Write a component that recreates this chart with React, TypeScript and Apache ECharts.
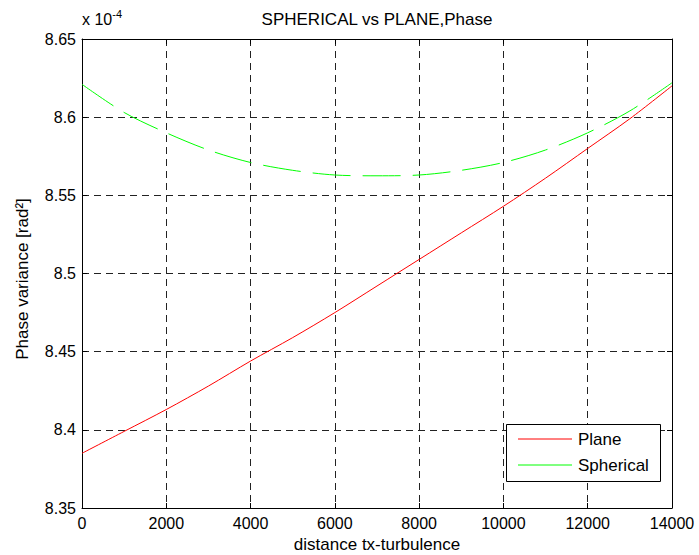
import React, { useEffect, useRef } from "react";
import * as echarts from "echarts";

const distance = [0, 1000, 2000, 3000, 4000, 5000, 6000, 7000, 8000, 9000, 10000, 11000, 12000, 13000, 14000];
const planeValues = [8.385, 8.399, 8.413, 8.428, 8.444, 8.459, 8.475, 8.492, 8.509, 8.526, 8.543, 8.561, 8.58, 8.599, 8.62];
const sphericalValues = [8.621, 8.603, 8.59, 8.579, 8.571, 8.566, 8.563, 8.5625, 8.563, 8.566, 8.571, 8.579, 8.59, 8.604, 8.622];
const seriesNames = ["Plane", "Spherical"];
const seriesColors = ["#ff0000", "#00ff00"];
const titleText = "SPHERICAL vs PLANE,Phase";
const xLabel = "distance tx-turbulence";
const yLabel = "Phase variance [rad²]";

const FONT = "'Liberation Sans', Arial, Helvetica, sans-serif";
const FS = 17;
const TFS = 16;

export default function App() {
  const ref = useRef<HTMLDivElement>(null);
  useEffect(() => {
    if (!ref.current) return;
    const chart = echarts.init(ref.current, undefined, { renderer: "svg" });
    const gridL = 82, gridT = 39, gridR = 27, gridB = 47;
    const W = 699;
    const plotCx = gridL + (W - gridL - gridR) / 2;
    const fmtY = (v: number) => String(+v.toFixed(2));
    const axisBase = {
      type: "value" as const,
      axisLine: { show: true, onZero: false, lineStyle: { color: "#000", width: 1 } },
      axisTick: { show: true, inside: true, length: 5, lineStyle: { color: "#000" } },
    };
    const legX = 506, legY = 424, legW = 154, legH = 57;
    const option: any = {
      animation: false,
      backgroundColor: "#fff",
      grid: { left: gridL, top: gridT, right: gridR, bottom: gridB, show: false },
      xAxis: [
        {
          ...axisBase,
          position: "bottom",
          min: 0,
          max: 14000,
          interval: 2000,
          axisLabel: { color: "#000", fontFamily: FONT, fontSize: TFS, margin: 7, formatter: (v: number) => String(v) },
          splitLine: { show: true, lineStyle: { color: "#222", type: [7, 5], width: 1 } },
        },
        {
          ...axisBase,
          position: "top",
          min: 0,
          max: 14000,
          interval: 2000,
          axisLabel: { show: false },
          splitLine: { show: false },
        },
      ],
      yAxis: [
        {
          ...axisBase,
          position: "left",
          min: 8.35,
          max: 8.65,
          interval: 0.05,
          axisLabel: { color: "#000", fontFamily: FONT, fontSize: TFS, margin: 6, formatter: fmtY },
          splitLine: { show: true, lineStyle: { color: "#222", type: [7, 5], width: 1 } },
        },
        {
          ...axisBase,
          position: "right",
          min: 8.35,
          max: 8.65,
          interval: 0.05,
          axisLabel: { show: false },
          splitLine: { show: false },
        },
      ],
      series: [
        {
          name: seriesNames[0],
          type: "line",
          data: distance.map((d, i) => [d, planeValues[i]]),
          showSymbol: false,
          smooth: 0.3,
          lineStyle: { color: seriesColors[0], width: 1 },
          z: 3,
        },
        {
          name: seriesNames[1],
          type: "line",
          data: distance.map((d, i) => [d, sphericalValues[i]]),
          showSymbol: false,
          smooth: 0.3,
          lineStyle: { color: seriesColors[1], width: 1, type: [38, 12] },
          z: 3,
        },
      ],
      graphic: [
        {
          type: "text",
          x: plotCx,
          y: 19,
          style: { text: titleText, font: `${FS}px ${FONT}`, fill: "#000", align: "center", verticalAlign: "middle" },
        },
        {
          type: "text",
          x: plotCx,
          y: 544,
          style: { text: xLabel, font: `${FS}px ${FONT}`, fill: "#000", align: "center", verticalAlign: "middle" },
        },
        {
          type: "text",
          x: 22,
          y: 279,
          rotation: Math.PI / 2,
          style: { text: yLabel, font: `${FS}px ${FONT}`, fill: "#000", align: "center", verticalAlign: "middle" },
        },
        {
          type: "text",
          x: 82,
          y: 27,
          style: {
            text: "{b|x 10}{s|-4}",
            verticalAlign: "bottom",
            align: "left",
            rich: {
              b: { fontFamily: FONT, fontSize: TFS, fill: "#000", verticalAlign: "bottom" },
              s: { fontFamily: FONT, fontSize: 11, fill: "#000", verticalAlign: "top", padding: [0, 0, 8, 0] },
            },
          },
        },
        {
          type: "rect",
          shape: { x: legX + 0.5, y: legY + 0.5, width: legW, height: legH },
          style: { fill: "#fff", stroke: "#000", lineWidth: 1 },
          z: 10,
        },
        ...seriesNames.flatMap((name, i) => [
          {
            type: "line",
            shape: { x1: 518, y1: 439 + i * 26, x2: 572, y2: 439 + i * 26 },
            style: { stroke: seriesColors[i], lineWidth: 1 },
            z: 11,
          },
          {
            type: "text",
            x: 578,
            y: 439 + i * 26,
            style: { text: name, font: `${FS}px ${FONT}`, fill: "#000", align: "left", verticalAlign: "middle" },
            z: 11,
          },
        ]),
      ],
    };
    chart.setOption(option);
    return () => chart.dispose();
  }, []);
  return <div ref={ref} style={{ position: "fixed", left: 0, top: 0, width: 699, height: 555 }} />;
}
